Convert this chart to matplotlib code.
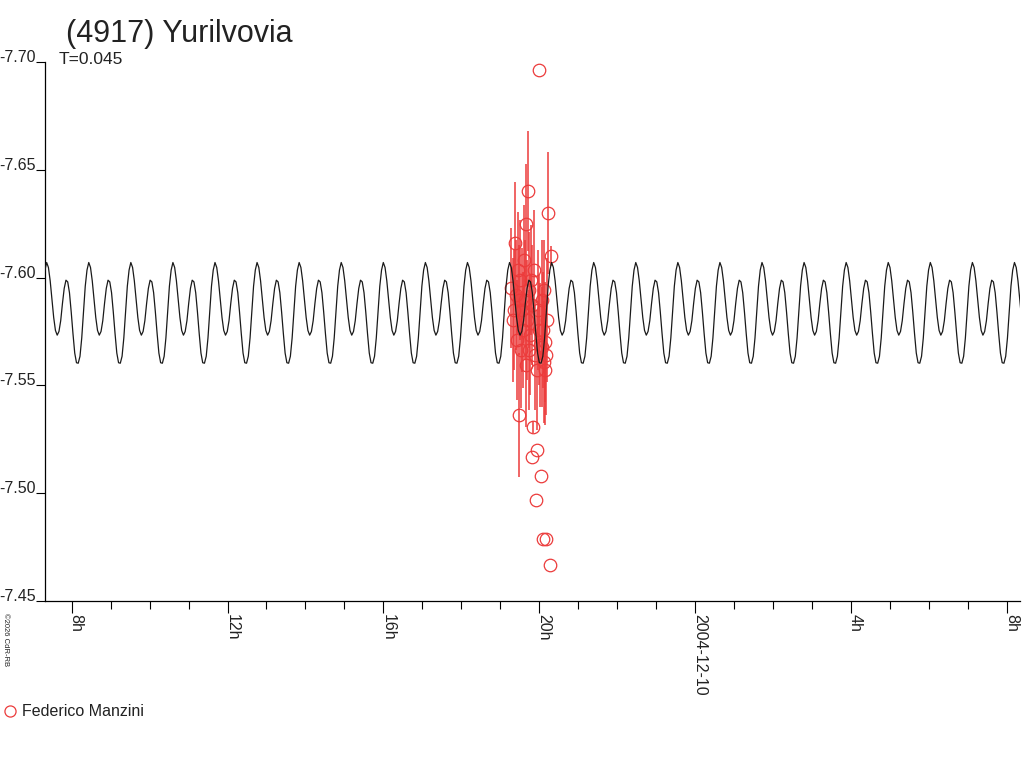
import numpy as np
import matplotlib
matplotlib.use("Agg")
import matplotlib.pyplot as plt
from matplotlib.lines import Line2D

plt.rcParams['font.family'] = ['Liberation Sans', 'DejaVu Sans']

title = "(4917) Yurilvovia"
period_label = "T=0.045"
observer = "Federico Manzini"

# hours since 2004-12-09 00:00
period_h = 0.045 * 24
model_t0 = 7.358
# one cycle of the model light curve, 24 samples starting at the brightest peak
model_cycle = [-7.6070, -7.6047, -7.5985, -7.5900, -7.5815, -7.5755,
               -7.5733, -7.5750, -7.5800, -7.5880, -7.5950, -7.5988,
               -7.5980, -7.5930, -7.5840, -7.5740, -7.5650, -7.5605,
               -7.5603, -7.5635, -7.5720, -7.5840, -7.5960, -7.6035]

obs_time = [20.000, 19.718, 20.231, 19.667, 20.308, 19.385, 19.615, 19.872,
            19.282, 20.128, 19.487, 19.821, 19.333, 20.205, 20.000, 19.436,
            20.154, 19.538, 19.897, 20.128, 19.667, 19.949, 19.487, 19.846,
            19.821, 19.949, 20.051, 19.923, 20.103, 20.179, 20.282, 19.513,
            19.564, 19.590, 19.641, 19.692, 19.744, 19.769, 19.795, 19.974,
            20.026, 20.077, 20.103, 20.179, 19.462, 19.410, 19.359, 20.077,
            20.154, 19.744]
obs_mag = [-7.6963, -7.6402, -7.6300, -7.6249, -7.6100, -7.6161, -7.6082, -7.6035,
           -7.5952, -7.5943, -7.5896, -7.5873, -7.5803, -7.5803, -7.5757, -7.5711,
           -7.5701, -7.5664, -7.5641, -7.5609, -7.5595, -7.5572, -7.5363, -7.5307,
           -7.5168, -7.5200, -7.5080, -7.4969, -7.4788, -7.4788, -7.4667, -7.5989,
           -7.5850, -7.5757, -7.5896, -7.5803, -7.5943, -7.5734, -7.5989, -7.5850,
           -7.5687, -7.5896, -7.5757, -7.5641, -7.6035, -7.5919, -7.5850, -7.5678,
           -7.5572, -7.5664]
obs_err = [0.0, 0.0278, 0.0283, 0.0278, 0.0046, 0.0283, 0.0255, 0.0278,
           0.0278, 0.0232, 0.0255, 0.0278, 0.0288, 0.0288, 0.0255, 0.0278,
           0.0278, 0.0269, 0.0255, 0.0283, 0.0288, 0.0278, 0.0288, 0.0028,
           0.0, 0.0, 0.0, 0.0, 0.0, 0.0, 0.0, 0.0278,
           0.0288, 0.0269, 0.0278, 0.0278, 0.0269, 0.0278, 0.0255, 0.0278,
           0.0288, 0.0278, 0.0269, 0.0278, 0.0269, 0.0255, 0.0278, 0.0278,
           0.0255, 0.0278]

x_range = (7.315, 32.34)
y_ticks = [-7.70, -7.65, -7.60, -7.55, -7.50, -7.45]
major_ticks = [8, 12, 16, 20, 24, 28, 32]
major_labels = ["8h", "12h", "16h", "20h", "2004-12-10", "4h", "8h"]

red = "#ec3b3b"
ink = "#222222"

fig = plt.figure(figsize=(10.24, 7.68), dpi=100)
ax = fig.add_axes([45 / 1024, 1 - 601 / 768, 975 / 1024, 539 / 768])

# model curve, one read cycle repeated with the period
n_cycles = int(np.ceil((x_range[1] - x_range[0]) / period_h)) + 2
start = np.floor((x_range[0] - model_t0) / period_h)
phase = np.arange(n_cycles * len(model_cycle)) / len(model_cycle)
model_t = model_t0 + (start + phase) * period_h
model_m = np.tile(model_cycle, n_cycles)
ax.plot(model_t, model_m, color="#1a1a1a", lw=0.9, zorder=3)

ax.errorbar(obs_time, obs_mag, yerr=obs_err, fmt="none", ecolor=red,
            elinewidth=1.1, capsize=0, zorder=2)
ax.plot(obs_time, obs_mag, "o", ms=9, mfc="none", mec=red, mew=0.9, zorder=2.5)

ax.set_xlim(*x_range)
ax.set_ylim(-7.45, -7.70)

for s in ["top", "right"]:
    ax.spines[s].set_visible(False)
for s in ["left", "bottom"]:
    ax.spines[s].set_linewidth(0.9)

ax.set_yticks(y_ticks)
ax.set_yticklabels([f"{v:.2f}" for v in y_ticks], fontsize=11.5, color=ink)
ax.tick_params(axis="y", direction="out", length=6.5, width=0.8, pad=0)
for lab in ax.get_yticklabels():
    lab.set_verticalalignment("baseline")

ax.set_xticks(major_ticks)
ax.set_xticks(np.arange(8, 33, 1), minor=True)
ax.set_xticklabels(major_labels, fontsize=11.5, color=ink,
                   rotation=270, rotation_mode="anchor", ha="left", va="baseline")
ax.tick_params(axis="x", which="major", direction="out", length=8.6, width=0.8, pad=0.5)
ax.tick_params(axis="x", which="minor", direction="out", length=5.8, width=0.8)

fig.text(66 / 1024, 1 - 42 / 768, title, fontsize=22, color=ink, va="baseline")
fig.text(59 / 1024, 1 - 64 / 768, period_label, fontsize=12.5, color=ink, va="baseline")
fig.text(0.002, 1 - 613 / 768, "\u00a92026 CdR-RB", fontsize=5.5, rotation=270,
         ha="left", va="top", color=ink)

handle = Line2D([], [], ls="none", marker="o", ms=8, mfc="none", mec=red, mew=0.9)
fig.legend([handle], [observer], loc="center left", bbox_to_anchor=(0.0, 1 - 712 / 768),
           frameon=False, fontsize=11.5, handlelength=0.8, handletextpad=0.4,
           borderpad=0, borderaxespad=0.2, labelcolor=ink)

fig.savefig("out.png", dpi=100)
